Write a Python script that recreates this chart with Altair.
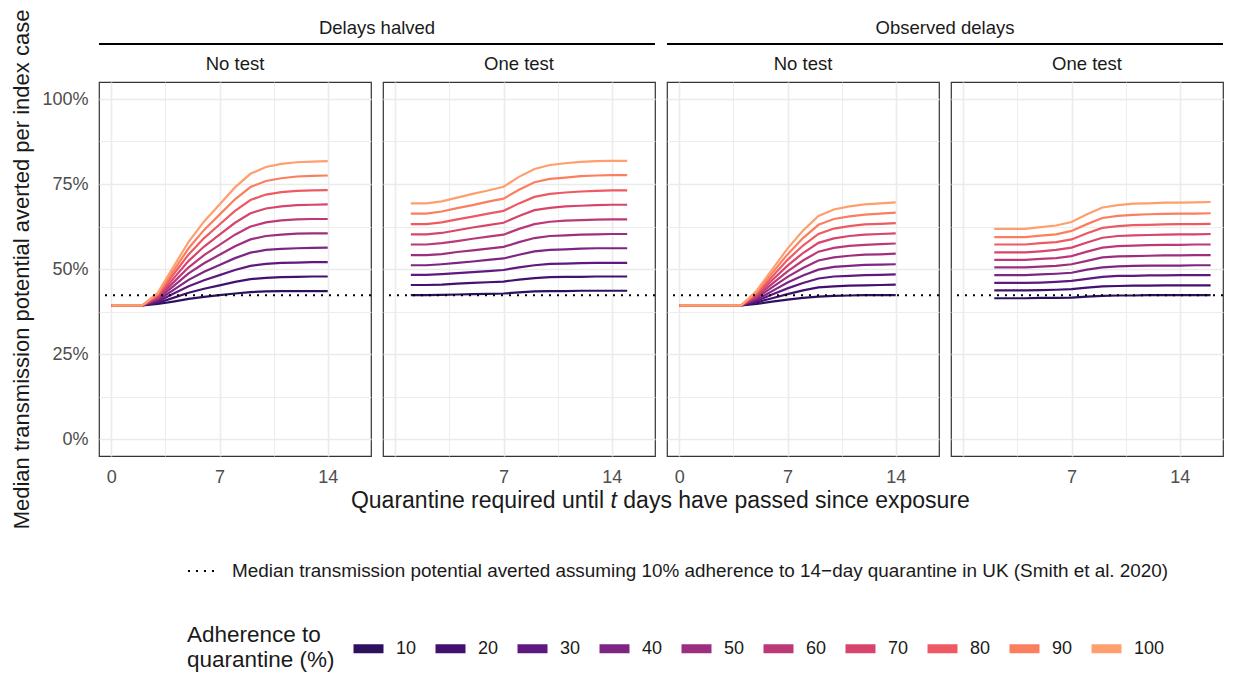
import altair as alt
import pandas as pd

FONT = "Liberation Sans"

adherence = [10, 20, 30, 40, 50, 60, 70, 80, 90, 100]
colors = ["#2c115f", "#42106f", "#5f187f", "#7e2482", "#9c2e7f",
          "#bc3978", "#d8456c", "#ee5a63", "#fb7f5e", "#fe9f6d"]

ref_value = 42.3
ref_label = ("Median transmission potential averted assuming 10% adherence "
             "to 14\u2212day quarantine in UK (Smith et al. 2020)")

# ---- Delays halved, No test (days 0..14)
days_halved_notest = [0, 1, 2, 3, 4, 5, 6, 7, 8, 9, 10, 11, 12, 13, 14]
halved_notest = {
    10: [39.3, 39.3, 39.3, 39.7, 40.4, 41.2, 41.8, 42.3, 42.8, 43.2, 43.4, 43.5, 43.5, 43.5, 43.5],
    20: [39.3, 39.3, 39.3, 40.0, 41.5, 43.0, 44.2, 45.2, 46.2, 47.0, 47.4, 47.6, 47.7, 47.8, 47.8],
    30: [39.3, 39.3, 39.3, 40.4, 42.7, 44.9, 46.7, 48.2, 49.7, 50.9, 51.5, 51.8, 51.9, 52.0, 52.0],
    40: [39.3, 39.3, 39.3, 40.8, 43.8, 46.8, 49.2, 51.2, 53.2, 54.8, 55.6, 55.9, 56.1, 56.2, 56.3],
    50: [39.3, 39.3, 39.3, 41.2, 44.9, 48.7, 51.7, 54.2, 56.7, 58.7, 59.7, 60.1, 60.4, 60.5, 60.5],
    60: [39.3, 39.3, 39.3, 41.5, 46.0, 50.5, 54.1, 57.1, 60.1, 62.5, 63.7, 64.3, 64.6, 64.7, 64.7],
    70: [39.3, 39.3, 39.3, 41.9, 47.1, 52.4, 56.6, 60.1, 63.6, 66.4, 67.8, 68.4, 68.8, 68.9, 69.0],
    80: [39.3, 39.3, 39.3, 42.3, 48.3, 54.3, 59.1, 63.1, 67.1, 70.3, 71.9, 72.6, 73.0, 73.1, 73.2],
    90: [39.3, 39.3, 39.3, 42.6, 49.4, 56.1, 61.5, 66.0, 70.5, 74.1, 75.9, 76.7, 77.2, 77.4, 77.5],
    100: [39.3, 39.3, 39.3, 43.0, 50.5, 58.0, 64.0, 69.0, 74.0, 78.0, 80.0, 80.9, 81.4, 81.6, 81.7],
}

# ---- Delays halved, One test (days 1..15)
days_halved_onetest = [1, 2, 3, 4, 5, 6, 7, 8, 9, 10, 11, 12, 13, 14, 15]
halved_onetest = {
    10: [42.3, 42.3, 42.4, 42.5, 42.6, 42.7, 42.8, 43.1, 43.4, 43.5, 43.5, 43.6, 43.6, 43.6, 43.6],
    20: [45.3, 45.3, 45.4, 45.7, 45.9, 46.1, 46.3, 46.9, 47.3, 47.6, 47.7, 47.7, 47.8, 47.8, 47.8],
    30: [48.3, 48.3, 48.5, 48.8, 49.1, 49.4, 49.7, 50.5, 51.1, 51.5, 51.6, 51.7, 51.8, 51.8, 51.8],
    40: [51.1, 51.1, 51.4, 51.8, 52.2, 52.7, 53.1, 54.2, 55.2, 55.6, 55.8, 56.0, 56.1, 56.1, 56.1],
    50: [54.1, 54.1, 54.4, 55.0, 55.5, 56.0, 56.5, 57.9, 59.1, 59.7, 59.9, 60.1, 60.2, 60.3, 60.3],
    60: [57.2, 57.2, 57.6, 58.2, 58.9, 59.5, 60.1, 61.8, 63.2, 63.9, 64.2, 64.4, 64.5, 64.6, 64.6],
    70: [60.2, 60.2, 60.6, 61.4, 62.2, 62.9, 63.6, 65.6, 67.3, 68.0, 68.4, 68.6, 68.8, 68.9, 68.9],
    80: [63.2, 63.2, 63.7, 64.6, 65.4, 66.3, 67.1, 69.3, 71.2, 72.1, 72.5, 72.8, 73.0, 73.1, 73.1],
    90: [66.3, 66.3, 66.9, 67.9, 68.8, 69.8, 70.7, 73.3, 75.5, 76.5, 76.9, 77.3, 77.5, 77.6, 77.6],
    100: [69.3, 69.3, 69.9, 71.0, 72.1, 73.1, 74.2, 77.1, 79.4, 80.6, 81.1, 81.5, 81.7, 81.8, 81.8],
}

# ---- Observed delays, No test (days 0..14)
days_observed_notest = [0, 1, 2, 3, 4, 5, 6, 7, 8, 9, 10, 11, 12, 13, 14]
observed_notest = {
    10: [39.3, 39.3, 39.3, 39.3, 39.3, 39.7, 40.4, 41.0, 41.5, 41.9, 42.1, 42.2, 42.3, 42.3, 42.3],
    20: [39.3, 39.3, 39.3, 39.3, 39.3, 40.2, 41.4, 42.6, 43.7, 44.6, 44.9, 45.1, 45.2, 45.3, 45.4],
    30: [39.3, 39.3, 39.3, 39.3, 39.3, 40.6, 42.5, 44.3, 45.9, 47.2, 47.8, 48.0, 48.2, 48.3, 48.4],
    40: [39.3, 39.3, 39.3, 39.3, 39.3, 41.0, 43.5, 46.0, 48.1, 49.8, 50.6, 50.9, 51.2, 51.3, 51.4],
    50: [39.3, 39.3, 39.3, 39.3, 39.3, 41.5, 44.6, 47.7, 50.3, 52.5, 53.4, 53.9, 54.2, 54.3, 54.5],
    60: [39.3, 39.3, 39.3, 39.3, 39.3, 41.9, 45.6, 49.3, 52.5, 55.1, 56.2, 56.8, 57.1, 57.3, 57.5],
    70: [39.3, 39.3, 39.3, 39.3, 39.3, 42.3, 46.7, 51.0, 54.7, 57.7, 59.0, 59.7, 60.1, 60.3, 60.5],
    80: [39.3, 39.3, 39.3, 39.3, 39.3, 42.7, 47.7, 52.7, 56.9, 60.3, 61.9, 62.6, 63.1, 63.3, 63.5],
    90: [39.3, 39.3, 39.3, 39.3, 39.3, 43.2, 48.8, 54.3, 59.1, 63.0, 64.7, 65.5, 66.0, 66.3, 66.6],
    100: [39.3, 39.3, 39.3, 39.3, 39.3, 43.6, 49.8, 56.0, 61.3, 65.6, 67.5, 68.4, 69.0, 69.3, 69.6],
}

# ---- Observed delays, One test (days 2..16)
days_observed_onetest = [2, 3, 4, 5, 6, 7, 8, 9, 10, 11, 12, 13, 14, 15, 16]
observed_onetest = {
    10: [41.4, 41.4, 41.4, 41.5, 41.5, 41.6, 41.9, 42.1, 42.2, 42.2, 42.3, 42.3, 42.3, 42.3, 42.3],
    20: [43.7, 43.7, 43.7, 43.8, 43.9, 44.1, 44.5, 44.9, 45.0, 45.1, 45.1, 45.2, 45.2, 45.2, 45.2],
    30: [45.9, 45.9, 45.9, 46.0, 46.2, 46.5, 47.1, 47.7, 48.0, 48.0, 48.1, 48.1, 48.2, 48.2, 48.2],
    40: [48.2, 48.2, 48.2, 48.4, 48.6, 48.9, 49.8, 50.5, 50.8, 50.9, 51.0, 51.0, 51.0, 51.1, 51.1],
    50: [50.5, 50.5, 50.5, 50.7, 50.9, 51.4, 52.4, 53.4, 53.7, 53.8, 53.9, 54.0, 54.0, 54.1, 54.1],
    60: [52.7, 52.7, 52.7, 53.0, 53.2, 53.8, 55.1, 56.3, 56.7, 56.9, 57.0, 57.1, 57.1, 57.2, 57.2],
    70: [54.9, 54.9, 54.9, 55.2, 55.6, 56.3, 57.8, 59.2, 59.7, 59.9, 60.0, 60.1, 60.2, 60.2, 60.3],
    80: [57.2, 57.2, 57.2, 57.6, 57.9, 58.7, 60.5, 62.1, 62.6, 62.9, 63.0, 63.1, 63.2, 63.2, 63.3],
    90: [59.4, 59.4, 59.4, 59.8, 60.2, 61.2, 63.2, 65.0, 65.6, 65.9, 66.1, 66.2, 66.3, 66.3, 66.4],
    100: [61.8, 61.8, 61.8, 62.3, 62.8, 63.8, 66.1, 68.1, 68.8, 69.2, 69.3, 69.5, 69.5, 69.6, 69.7],
}

x_grid = [0, 3.5, 7, 10.5, 14]
y_grid = [0, 12.5, 25, 37.5, 50, 62.5, 75, 87.5, 100]

W, H, SP = 272, 374, 12
TEXT = "#1a1a1a"
TICK = "#4d4d4d"
GRID = "#ebebeb"


def long_df(days, series):
    rows = []
    for a in adherence:
        for d, v in zip(days, series[a]):
            rows.append({"day": d, "value": v, "adherence": a})
    return pd.DataFrame(rows)


def make_panel(days, series, strip, first=False, hide_zero=False, header=None):
    df = long_df(days, series)
    xlab = ("datum.value > 0 && datum.value % 7 === 0 ? datum.label : ''" if hide_zero
            else "datum.value % 7 === 0 ? datum.label : ''")
    xaxis = alt.Axis(values=x_grid, labelExpr=xlab, grid=True, gridColor=GRID,
                     gridWidth={"condition": {"test": "datum.value % 7 === 0", "value": 1.6}, "value": 0.9},
                     ticks=False, domain=False, labelFontSize=18, labelColor=TICK,
                     labelPadding=12, labelOverlap=False, title=None)
    if first:
        yaxis = alt.Axis(values=y_grid,
                         labelExpr="datum.value % 25 === 0 ? datum.value + '%' : ''",
                         grid=True, gridColor=GRID,
                         gridWidth={"condition": {"test": "datum.value % 25 === 0", "value": 1.6}, "value": 0.9},
                         ticks=False, domain=False, labelFontSize=18, labelColor=TICK,
                         labelPadding=11, labelOverlap=False,
                         title="Median transmission potential averted per index case",
                         titleFontSize=22, titleFontWeight="normal", titleColor=TEXT,
                         titlePadding=8)
    else:
        yaxis = alt.Axis(values=y_grid, grid=True, gridColor=GRID,
                         gridWidth={"condition": {"test": "datum.value % 25 === 0", "value": 1.6}, "value": 0.9},
                         labels=False, ticks=False, domain=False, title=None)

    xs = alt.Scale(domain=[-0.8, 16.8], nice=False, zero=False)
    ys = alt.Scale(domain=[-5, 105], nice=False, zero=False)

    if first:
        color_legend = alt.Legend(orient="none", legendX=88, legendY=H + 173,
                                  direction="horizontal", titleOrient="left",
                                  titleAnchor="middle",
                                  titleFontSize=22.5, titleFontWeight="normal",
                                  titleColor=TEXT, titleLineHeight=25, titlePadding=14,
                                  labelFontSize=18, labelColor=TEXT, labelOffset=8,
                                  columnPadding=0, symbolType="stroke", symbolSize=900,
                                  symbolStrokeWidth=9, symbolOpacity=1)
        dash_legend = alt.Legend(orient="none", legendX=88, legendY=H + 98, title=None,
                                 symbolType="stroke", symbolSize=1024, symbolStrokeWidth=2,
                                 symbolStrokeColor="black", labelFontSize=18.9,
                                 labelColor=TEXT, labelOffset=11, labelLimit=1200)
    else:
        color_legend = None
        dash_legend = None

    lines = alt.Chart(df).mark_line(strokeWidth=2.2).encode(
        x=alt.X("day:Q", scale=xs, axis=xaxis),
        y=alt.Y("value:Q", scale=ys, axis=yaxis),
        color=alt.Color("adherence:O", scale=alt.Scale(domain=adherence, range=colors),
                        title=["Adherence to", "quarantine (%)"], legend=color_legend),
    )

    ref = alt.Chart(pd.DataFrame({"value": [ref_value], "label": [ref_label]})).mark_rule(
        color="black", strokeWidth=2
    ).encode(
        y=alt.Y("value:Q", scale=ys, axis=yaxis),
        strokeDash=alt.StrokeDash("label:N", scale=alt.Scale(domain=[ref_label], range=[[2, 6]]),
                                  legend=dash_legend),
    )

    strip_txt = alt.Chart(pd.DataFrame({"t": [strip]})).mark_text(
        font=FONT, fontSize=18.5, color=TEXT, align="center", baseline="middle"
    ).encode(text="t:N", x=alt.value(W / 2), y=alt.value(-18))

    layers = [lines, ref, strip_txt]

    if header is not None:
        hdr_txt = alt.Chart(pd.DataFrame({"t": [header]})).mark_text(
            font=FONT, fontSize=18.5, color=TEXT, align="center", baseline="middle"
        ).encode(text="t:N", x=alt.value(W + SP / 2), y=alt.value(-54))
        hdr_rule = alt.Chart(pd.DataFrame({"t": [header]})).mark_rule(
            color="black", strokeWidth=2.2
        ).encode(x=alt.value(0), x2=alt.value(2 * W + SP), y=alt.value(-38))
        layers += [hdr_rule, hdr_txt]

    if first:
        tdf = pd.DataFrame({"a": ["Quarantine required until"], "b": ["t"],
                            "c": ["days have passed since exposure"]})
        ty = H + 45
        xt1 = alt.Chart(tdf).mark_text(font=FONT, fontSize=23, color=TEXT, align="right",
                                       baseline="middle").encode(
            text="a:N", x=alt.value(505.1), y=alt.value(ty))
        xt2 = alt.Chart(tdf).mark_text(font=FONT, fontSize=23, color=TEXT, align="left",
                                       baseline="middle", fontStyle="italic").encode(
            text="b:N", x=alt.value(511.5), y=alt.value(ty))
        xt3 = alt.Chart(tdf).mark_text(font=FONT, fontSize=23, color=TEXT, align="left",
                                       baseline="middle").encode(
            text="c:N", x=alt.value(524.3), y=alt.value(ty))
        layers += [xt1, xt2, xt3]

    return alt.layer(*layers).properties(width=W, height=H)


p1 = make_panel(days_halved_notest, halved_notest, "No test", first=True, header="Delays halved")
p2 = make_panel(days_halved_onetest, halved_onetest, "One test", hide_zero=True)
p3 = make_panel(days_observed_notest, observed_notest, "No test", header="Observed delays")
p4 = make_panel(days_observed_onetest, observed_onetest, "One test", hide_zero=True)

chart = alt.hconcat(p1, p2, p3, p4, spacing=SP, bounds="flush").resolve_scale(
    color="independent", strokeDash="independent"
).resolve_legend(
    color="independent", strokeDash="independent"
).properties(
    padding={"left": 2, "top": 0, "right": 0, "bottom": 0}
).configure(
    font=FONT, background="white"
).configure_view(
    stroke="#333333", strokeWidth=1.2
)

chart.save("out.html", embed_options={"renderer": "svg", "actions": False})
